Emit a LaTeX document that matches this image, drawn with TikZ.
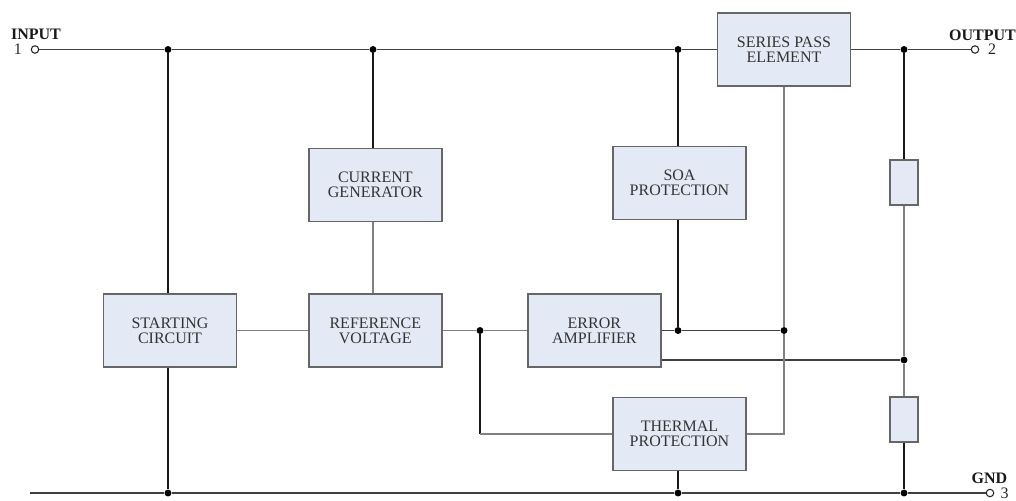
\documentclass[tikz,border=0pt]{standalone}
\usepackage{fontspec}
\setmainfont{Liberation Serif}
\usetikzlibrary{positioning}
\tikzset{
	block/.style={draw=black!60, line width=1pt, fill=blockfill, text=black!80, minimum width=99.75pt, minimum height=54.75pt, align=center, inner sep=0pt, font=\fontsize{12}{11.25}\selectfont},
	resistor/.style={draw=black!60, line width=1pt, fill=blockfill, minimum width=21pt, minimum height=33.75pt, inner sep=0pt},
	junction/.style={circle, fill=black, minimum size=5.2pt, inner sep=0pt},
	terminal/.style={circle, draw=black!85, line width=0.8pt, fill=white, minimum size=5.6pt, inner sep=0pt},
	pinname/.style={font=\bfseries\fontsize{12}{12}\selectfont, text=black!90, inner sep=0pt},
	pinnum/.style={font=\fontsize{12}{12}\selectfont, text=black!85, inner sep=0pt},
	heavy/.style={draw=black!90, line width=1.2pt},
	rail/.style={draw=black!75, line width=1pt},
	light/.style={draw=black!50, line width=0.9pt}
}
\definecolor{blockfill}{HTML}{E4EAF5}
\begin{document}
\begin{tikzpicture}[x=0.75pt, y=-0.75pt]
		\useasboundingbox (0,0) rectangle (1016,500);
		
		% Define blocks
		\node[block] (start) at (170,330.5) {STARTING\\CIRCUIT};
		\node[block, right = 53.25pt of start] (ref) {REFERENCE\\VOLTAGE};
		\node[block, above = 53.25pt of ref] (cur) {CURRENT\\GENERATOR};
		\node[block, right = 63.5pt of ref] (err) {ERROR\\AMPLIFIER};
		\node[block] (soa) at (679.5,183) {SOA\\PROTECTION};
		\node[block] (therm) at (679.5,434) {THERMAL\\PROTECTION};
		\node[block] (pass) at (784,49.5) {SERIES PASS\\ELEMENT};
		\node[resistor] (r1) at (904,182.5) {};
		\node[resistor] (r2) at (904,419.5) {};
		
		% Define terminals and pin labels
		\node[terminal] (in) at (35,49.5) {};
		\node[terminal] (out) at (975,49.5) {};
		\node[terminal] (gnd) at (990,493) {};
		\coordinate (gndl) at (30,493);
		\node[pinname] (inname) at (36,34) {INPUT};
		\node[pinnum, left = 6.5pt of in] (innum) {1};
		\node[pinname] (outname) at (982.5,35.5) {OUTPUT};
		\node[pinnum, right = 6.5pt of out] (outnum) {2};
		\node[pinname] (gndname) at (989.5,478) {GND};
		\node[pinnum, right = 4.5pt of gnd] (gndnum) {3};
		
		% Define junctions
		\node[junction] (j1) at (168,49.5) {};
		\node[junction] (j2) at (373,49.5) {};
		\node[junction] (j3) at (678,49.5) {};
		\node[junction] (j4) at (904,49.5) {};
		\node[junction] (j5) at (480,330.5) {};
		\node[junction] (j6) at (678,330.5) {};
		\node[junction] (j7) at (784,330.5) {};
		\node[junction] (j8) at (904,360) {};
		\node[junction] (j9) at (168,493) {};
		\node[junction] (j10) at (678,493) {};
		\node[junction] (j11) at (904,493) {};
		
		% Draw rails
		\draw[rail] (in) -- (j1) -- (j2) -- (j3) -- (pass.west);
		\draw[rail] (pass.east) -- (j4) -- (out);
		\draw[rail] (gndl) -- (j9) -- (j10) -- (j11) -- (gnd);
		\draw[rail] (j6 -| err.east) -- (j6) -- (j7);
		\draw[rail] (j8 -| err.east) -- (j8);
		
		% Draw heavy branches
		\draw[heavy] (j1) -- (j1 |- start.north);
		\draw[heavy] (j1 |- start.south) -- (j9);
		\draw[heavy] (j2) -- (j2 |- cur.north);
		\draw[heavy] (j3) -- (j3 |- soa.north);
		\draw[heavy] (j3 |- soa.south) -- (j6);
		\draw[heavy] (j3 |- therm.south) -- (j10);
		\draw[heavy] (j4) -- (r1.north);
		\draw[heavy] (r2.south) -- (j11);
		\draw[heavy] (j5) -- (j5 |- therm.west);
		
		% Draw light branches
		\draw[light] (start.east) -- (ref.west);
		\draw[light] (ref.east) -- (j5) -- (err.west);
		\draw[light] (j5 |- therm.west) -- (therm.west);
		\draw[light] (j2 |- cur.south) -- (j2 |- ref.north);
		\draw[light] (pass.south) -- (j7);
		\draw[light] (j7) |- (therm.east);
		\draw[light] (r1.south) -- (j8);
		\draw[light] (j8) -- (r2.north);
	\end{tikzpicture}
\end{document}
